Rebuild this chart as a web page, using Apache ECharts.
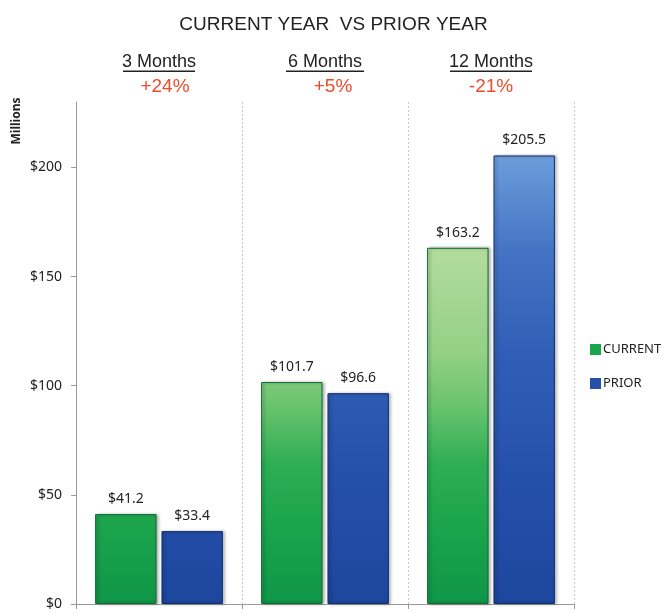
<!DOCTYPE html>
<html>
<head>
<meta charset="utf-8">
<script src="https://cdn.jsdelivr.net/npm/echarts@6/dist/echarts.min.js"></script>
<style>
  html, body { margin: 0; padding: 0; background: #fff; }
  #chart { width: 667px; height: 614px; }
</style>
</head>
<body>
<div id="chart"></div>
<script>
// data
const periods = ['3 Months', '6 Months', '12 Months'];
const changes = ['+24%', '+5%', '-21%'];
const currentValues = [41.2, 101.7, 163.2];
const priorValues = [33.4, 96.6, 205.5];
const yTicks = [0, 50, 100, 150, 200];

const chart = echarts.init(document.getElementById('chart'));

// colour fades over the plot height, like the original
const greenFill = new echarts.graphic.LinearGradient(0, 102, 0, 604, [
  {offset: 0, color: '#d8efca'},
  {offset: 0.3, color: '#b2db9c'},
  {offset: 0.5, color: '#94d086'},
  {offset: 0.6, color: '#6cc470'},
  {offset: 0.72, color: '#2eae55'},
  {offset: 0.85, color: '#1aa44c'},
  {offset: 1, color: '#0f9647'}
], true);
const blueFill = new echarts.graphic.LinearGradient(0, 102, 0, 604, [
  {offset: 0, color: '#8cbcec'},
  {offset: 0.1, color: '#6d9fdc'},
  {offset: 0.3, color: '#4473c4'},
  {offset: 0.5, color: '#305eb6'},
  {offset: 0.75, color: '#2550aa'},
  {offset: 1, color: '#1d469e'}
], true);

const valueLabel = {
  show: true,
  position: 'top',
  distance: 8,
  fontFamily: 'Noto Sans',
  fontSize: 14,
  color: '#222',
  formatter: p => '$' + p.value
};

const changeStyle = {fontFamily: 'Liberation Sans', fontSize: 19, color: '#ee4b2b', lineHeight: 30};

let option = {
  animation: false,
  backgroundColor: '#fff',
  title: {
    text: 'CURRENT YEAR  VS PRIOR YEAR',
    left: 'center',
    top: 10,
    textStyle: {
      fontFamily: 'Liberation Sans',
      fontSize: 19,
      fontWeight: 'normal',
      color: '#222'
    }
  },
  legend: {
    orient: 'vertical',
    left: 585,
    top: 338,
    itemWidth: 11,
    itemHeight: 11,
    itemGap: 21,
    icon: 'rect',
    textStyle: {fontFamily: 'Noto Sans', fontSize: 13, color: '#222', padding: [0, 0, 0, -3]},
    data: [
      {name: 'CURRENT', itemStyle: {color: '#1aa44c', borderWidth: 0}},
      {name: 'PRIOR', itemStyle: {color: '#2550aa', borderWidth: 0}}
    ]
  },
  graphic: [{
    type: 'text',
    x: 17,
    y: 121,
    rotation: Math.PI / 2,
    style: {
      text: 'Millions',
      fontFamily: 'Noto Sans',
      fontSize: 12,
      fontWeight: 'bold',
      fill: '#222',
      align: 'center',
      verticalAlign: 'middle'
    }
  }],
  grid: {left: 76, right: 93, top: 102, bottom: 10},
  xAxis: [
    {
      type: 'category',
      data: periods,
      position: 'bottom',
      axisLine: {lineStyle: {color: '#999'}},
      axisTick: {show: true, length: 5, lineStyle: {color: '#999'}},
      axisLabel: {show: false},
      splitLine: {show: true, lineStyle: {color: '#c8c8c8', type: [2, 2]}}
    },
    {
      type: 'category',
      data: periods,
      position: 'top',
      axisLine: {show: false},
      axisTick: {show: false},
      axisLabel: {
        margin: 0,
        formatter: (v, i) => '{a|' + v + '}\n{u' + i + '|}\n{b' + i + '|' + changes[i] + '}',
        rich: {
          a: {fontFamily: 'Liberation Sans', fontSize: 18, color: '#222', lineHeight: 16},
          u0: {width: 72, height: 1.5, backgroundColor: '#222'},
          u1: {width: 78, height: 1.5, backgroundColor: '#222'},
          u2: {width: 82, height: 1.5, backgroundColor: '#222'},
          b0: Object.assign({padding: [0, 0, 0, 12]}, changeStyle),
          b1: Object.assign({padding: [0, 0, 0, 16]}, changeStyle),
          b2: changeStyle
        }
      }
    }
  ],
  yAxis: {
    type: 'value',
    min: yTicks[0],
    max: 230,
    interval: 50,
    axisLine: {show: true, lineStyle: {color: '#999'}},
    axisTick: {show: true, length: 5, lineStyle: {color: '#999'}},
    splitLine: {show: false},
    axisLabel: {
      showMaxLabel: false,
      margin: 14,
      fontFamily: 'Noto Sans',
      fontSize: 14,
      color: '#222',
      formatter: v => yTicks.indexOf(v) >= 0 ? '$' + v : ''
    }
  },
  series: [
    {
      name: 'CURRENT',
      type: 'bar',
      xAxisIndex: 0,
      barCategoryGap: '23%',
      barGap: '8%',
      data: currentValues,
      label: valueLabel,
      itemStyle: {
        color: greenFill,
        borderColor: '#0d6e33',
        borderWidth: 1,
        shadowColor: 'rgba(0,0,0,0.35)',
        shadowBlur: 3,
        shadowOffsetX: 2
      }
    },
    {
      name: 'PRIOR',
      type: 'bar',
      xAxisIndex: 0,
      barCategoryGap: '23%',
      barGap: '8%',
      data: priorValues,
      label: valueLabel,
      itemStyle: {
        color: blueFill,
        borderColor: '#14306e',
        borderWidth: 1,
        shadowColor: 'rgba(0,0,0,0.35)',
        shadowBlur: 3,
        shadowOffsetX: 2
      }
    }
  ]
};

chart.setOption(option);
</script>
</body>
</html>
